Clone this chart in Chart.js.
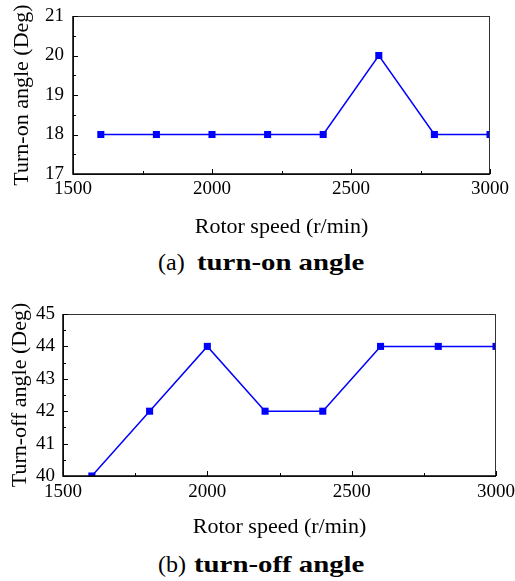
<!DOCTYPE html>
<html>
<head>
<meta charset="utf-8">
<script src="https://cdn.jsdelivr.net/npm/chart.js@4.4.1/dist/chart.umd.min.js"></script>
<style>
  body { margin: 0; background: #fff; width: 515px; height: 581px; position: relative; overflow: hidden; }
  canvas { position: absolute; left: 0; }
  #chartOn { top: 0; }
  #chartOff { top: 290px; }
  .caption { position: absolute; font-family: "Liberation Serif", serif; font-size: 24px; line-height: 24px; white-space: nowrap; color: #000; }
  .caption b { display: inline-block; transform: scaleX(1.2); transform-origin: left center; }
</style>
</head>
<body>
<canvas id="chartOn" width="515" height="245"></canvas>
<canvas id="chartOff" width="515" height="255"></canvas>
<div class="caption" style="left:158px; top:250px;">(a)<span style="display:inline-block;width:6px"></span> <b>turn-on angle</b></div>
<div class="caption" style="left:158px; top:552px;">(b)<span style="display:inline-block;width:2px"></span> <b>turn-off angle</b></div>

<script>
// values
const speeds = [1600, 1800, 2000, 2200, 2400, 2600, 2800, 3000];
const turnOnAngles = [18, 18, 18, 18, 18, 20, 18, 18];
const turnOffAngles = [40, 42, 44, 42, 42, 44, 44, 44];

const speedTicks = [1500, 2000, 2500, 3000];
const turnOnTicks = [17, 18, 19, 20, 21];
const turnOffTicks = [40, 41, 42, 43, 44, 45];

const serifFamily = '"Liberation Serif", serif';
Chart.defaults.font.family = serifFamily;
Chart.defaults.color = '#000';

// frame round the plot and inward tick marks (major + minor halfway)
const frameTicks = {
    id: 'frameTicks',
    afterDraw(chart) {
        const ctx = chart.ctx;
        const a = chart.chartArea;
        const x = chart.scales.x;
        const y = chart.scales.y;
        ctx.save();
        ctx.strokeStyle = '#333';
        ctx.lineWidth = 1;
        ctx.strokeRect(a.left + 0.5, a.top + 0.5, a.right - a.left - 1, a.bottom - a.top);

        ctx.strokeStyle = '#000';
        ctx.lineWidth = 1.5;
        ctx.beginPath();
        ctx.moveTo(a.left, a.top);
        ctx.lineTo(a.left, a.bottom);
        ctx.lineTo(a.right, a.bottom);
        ctx.stroke();

        ctx.lineWidth = 1;
        ctx.beginPath();
        const xt = x.ticks.map(t => t.value);
        for (let i = 0; i < xt.length; i++) {
            const px = Math.round(x.getPixelForValue(xt[i])) + 0.5;
            ctx.moveTo(px, a.bottom);
            ctx.lineTo(px, a.bottom - 5);
            if (i < xt.length - 1) {
                const mx = Math.round(x.getPixelForValue((xt[i] + xt[i + 1]) / 2)) + 0.5;
                ctx.moveTo(mx, a.bottom);
                ctx.lineTo(mx, a.bottom - 3);
            }
        }
        const yt = y.ticks.map(t => t.value);
        for (let i = 0; i < yt.length; i++) {
            const py = Math.round(y.getPixelForValue(yt[i])) + 0.5;
            ctx.moveTo(a.left, py);
            ctx.lineTo(a.left + 5, py);
            if (i < yt.length - 1) {
                const my = Math.round(y.getPixelForValue((yt[i] + yt[i + 1]) / 2)) + 0.5;
                ctx.moveTo(a.left, my);
                ctx.lineTo(a.left + 3, my);
            }
        }
        ctx.stroke();
        ctx.restore();
    }
};

function plainLabel(value) {
    return String(value);
}

function createChart(id, values, yTicks, yTitle, box) {
    const ctx = document.getElementById(id);
    return new Chart(ctx, {
        type: 'line',
        data: {
            datasets: [{
                data: speeds.map(function (s, i) { return { x: s, y: values[i] }; }),
                borderColor: '#0000ff',
                backgroundColor: '#0000ff',
                borderWidth: 1.5,
                pointStyle: 'rect',
                pointRadius: 5,
                pointBorderWidth: 0,
                tension: 0
            }]
        },
        options: {
            responsive: false,
            animation: false,
            events: [],
            layout: { padding: { left: 0, top: box.top, right: box.right, bottom: 0 } },
            plugins: { legend: { display: false }, tooltip: { enabled: false } },
            scales: {
                x: {
                    type: 'linear',
                    min: speedTicks[0],
                    max: speedTicks[speedTicks.length - 1],
                    afterBuildTicks: function (scale) { scale.ticks = speedTicks.map(v => ({ value: v })); },
                    afterFit: function (scale) { scale.height = box.xHeight; scale.paddingLeft = 0; scale.paddingRight = 0; },
                    grid: { display: false, drawTicks: false },
                    border: { display: false },
                    ticks: { color: '#000', padding: box.xPad, maxRotation: 0, callback: plainLabel, font: { family: serifFamily, size: 19 } },
                    title: { display: true, text: 'Rotor speed (r/min)', color: '#000', padding: { top: box.titlePad, bottom: box.titlePad }, font: { family: serifFamily, size: 22 } }
                },
                y: {
                    min: yTicks[0],
                    max: yTicks[yTicks.length - 1],
                    afterBuildTicks: function (scale) { scale.ticks = yTicks.map(v => ({ value: v })); },
                    afterFit: function (scale) { scale.width = box.left; scale.paddingTop = 0; scale.paddingBottom = 0; },
                    grid: { display: false, drawTicks: false },
                    border: { display: false },
                    ticks: { color: '#000', padding: box.yPad, callback: plainLabel, font: { family: serifFamily, size: 19 } },
                    title: { display: true, text: yTitle, color: '#000', padding: { top: box.yTitlePad, bottom: box.yTitlePad }, font: { family: serifFamily, size: 22 } }
                }
            }
        },
        plugins: [frameTicks]
    });
}

createChart('chartOn', turnOnAngles, turnOnTicks, 'Turn-on angle (Deg)',
    { left: 73, top: 16, right: 25, xHeight: 71, xPad: 4, yPad: 9, titlePad: 5, yTitlePad: 9 });
createChart('chartOff', turnOffAngles, turnOffTicks, 'Turn-off angle (Deg)',
    { left: 63, top: 24, right: 19, xHeight: 69, xPad: 5, yPad: 8, titlePad: 5, yTitlePad: 7 });
</script>
</body>
</html>
